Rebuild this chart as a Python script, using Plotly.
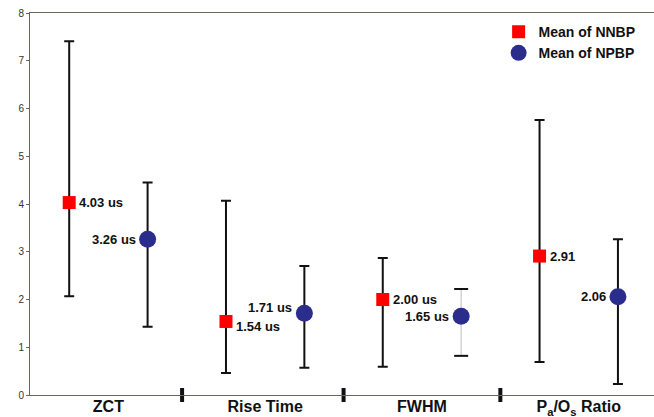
import plotly.graph_objects as go

categories = ["ZCT", "Rise Time", "FWHM", "P<sub>a</sub>/O<sub>s</sub> Ratio"]
cat_pos = [0, 1, 2, 3]
separators = [0.47, 1.5, 2.5]

nnbp_mean = [4.03, 1.54, 2.00, 2.91]
nnbp_high = [7.41, 4.07, 2.87, 5.76]
nnbp_low = [2.07, 0.46, 0.59, 0.69]
nnbp_text = ["4.03 us", "1.54 us", "2.00 us", "2.91"]

npbp_mean = [3.26, 1.71, 1.65, 2.06]
npbp_high = [4.45, 2.70, 2.22, 3.26]
npbp_low = [1.43, 0.57, 0.82, 0.23]
npbp_text = ["3.26 us", "1.71 us", "1.65 us", "2.06"]

OFF = 0.25
FONT = "Liberation Sans, Arial, sans-serif"
RED = "#ff0000"
NAVY = "#2a2d8c"

x_nn = [p - OFF for p in cat_pos]
x_np = [p + OFF for p in cat_pos]

fig = go.Figure()

# NNBP
fig.add_trace(go.Scatter(
    x=x_nn, y=nnbp_mean, mode="markers", name="Mean of NNBP",
    marker=dict(symbol="square", size=13, color=RED),
    error_y=dict(type="data", symmetric=False,
                 array=[h - m for h, m in zip(nnbp_high, nnbp_mean)],
                 arrayminus=[m - l for m, l in zip(nnbp_mean, nnbp_low)],
                 color="#111111", thickness=2, width=5),
))

# NPBP (all except FWHM get black bars)
idx_black = [0, 1, 3]
fig.add_trace(go.Scatter(
    x=[x_np[i] for i in idx_black], y=[npbp_mean[i] for i in idx_black],
    mode="markers", showlegend=False, hoverinfo="skip",
    marker=dict(size=1, color="rgba(0,0,0,0)"),
    error_y=dict(type="data", symmetric=False,
                 array=[npbp_high[i] - npbp_mean[i] for i in idx_black],
                 arrayminus=[npbp_mean[i] - npbp_low[i] for i in idx_black],
                 color="#111111", thickness=2, width=5),
))
# FWHM NPBP: light grey bar with black caps
fig.add_trace(go.Scatter(
    x=[x_np[2]], y=[npbp_mean[2]], mode="markers", showlegend=False, hoverinfo="skip",
    marker=dict(size=1, color="rgba(0,0,0,0)"),
    error_y=dict(type="data", symmetric=False,
                 array=[npbp_high[2] - npbp_mean[2]],
                 arrayminus=[npbp_mean[2] - npbp_low[2]],
                 color="#c8c8c8", thickness=1.2, width=0),
))
fig.add_trace(go.Scatter(
    x=[x_np[2], x_np[2]], y=[npbp_high[2], npbp_low[2]], mode="markers",
    showlegend=False, hoverinfo="skip",
    marker=dict(symbol="line-ew", size=10, line=dict(color="#111111", width=2)),
))
fig.add_trace(go.Scatter(
    x=x_np, y=npbp_mean, mode="markers", name="Mean of NPBP",
    marker=dict(symbol="circle", size=17, color=NAVY),
))

# separators on x axis
fig.add_trace(go.Scatter(
    x=separators, y=[0] * len(separators), mode="markers", showlegend=False,
    hoverinfo="skip", cliponaxis=False,
    marker=dict(symbol="line-ns", size=10, line=dict(color="#111111", width=4)),
))

# value labels
label_font = dict(family=FONT, size=13, color="#111111")
nn_shift = [(8, 0), (8, -5), (8, 0), (8, 0)]
for x, y, t, (xs, ys) in zip(x_nn, nnbp_mean, nnbp_text, nn_shift):
    fig.add_annotation(x=x, y=y, text="<b>%s</b>" % t, showarrow=False,
                       xanchor="left", xshift=xs, yshift=ys, font=label_font)
np_shift = [(-10, 0), (-10, 6), (-10, 0), (-10, 0)]
for x, y, t, (xs, ys) in zip(x_np, npbp_mean, npbp_text, np_shift):
    fig.add_annotation(x=x, y=y, text="<b>%s</b>" % t, showarrow=False,
                       xanchor="right", xshift=xs, yshift=ys, font=label_font)

fig.update_layout(
    width=654, height=417,
    margin=dict(l=30, r=0, t=13, b=22, autoexpand=False),
    paper_bgcolor="white", plot_bgcolor="white",
    showlegend=True,
    legend=dict(x=0.751, y=0.992, xanchor="left", yanchor="top",
                bgcolor="rgba(0,0,0,0)", tracegroupgap=0,
                font=dict(family=FONT, size=14, color="#111111", weight="bold"),
                itemsizing="trace"),
    font=dict(family=FONT),
)
fig.update_xaxes(
    range=[-0.5, 3.48], tickmode="array", tickvals=cat_pos,
    ticktext=["<b>%s</b>" % c for c in categories],
    tickfont=dict(family=FONT, size=16, color="#111111"),
    showline=True, linecolor="#6b6560", linewidth=1, mirror=True,
    showgrid=False, zeroline=False, ticks="", ticklabelstandoff=-3,
    automargin=False,
)
fig.update_yaxes(
    range=[0, 8], dtick=1, showline=True, linecolor="#6b6560", linewidth=1,
    showgrid=False, zeroline=False, ticks="outside", ticklen=3,
    tickcolor="#6b6560", automargin=False, ticklabeloverflow="allow",
    tickfont=dict(family=FONT, size=10, color="#333333"),
)

# remove the default 8px page margin so the figure sits at the window origin
fig.write_html("out.html", config={"displayModeBar": False},
               post_script="document.body.style.margin='0px';document.body.style.overflow='hidden';")
